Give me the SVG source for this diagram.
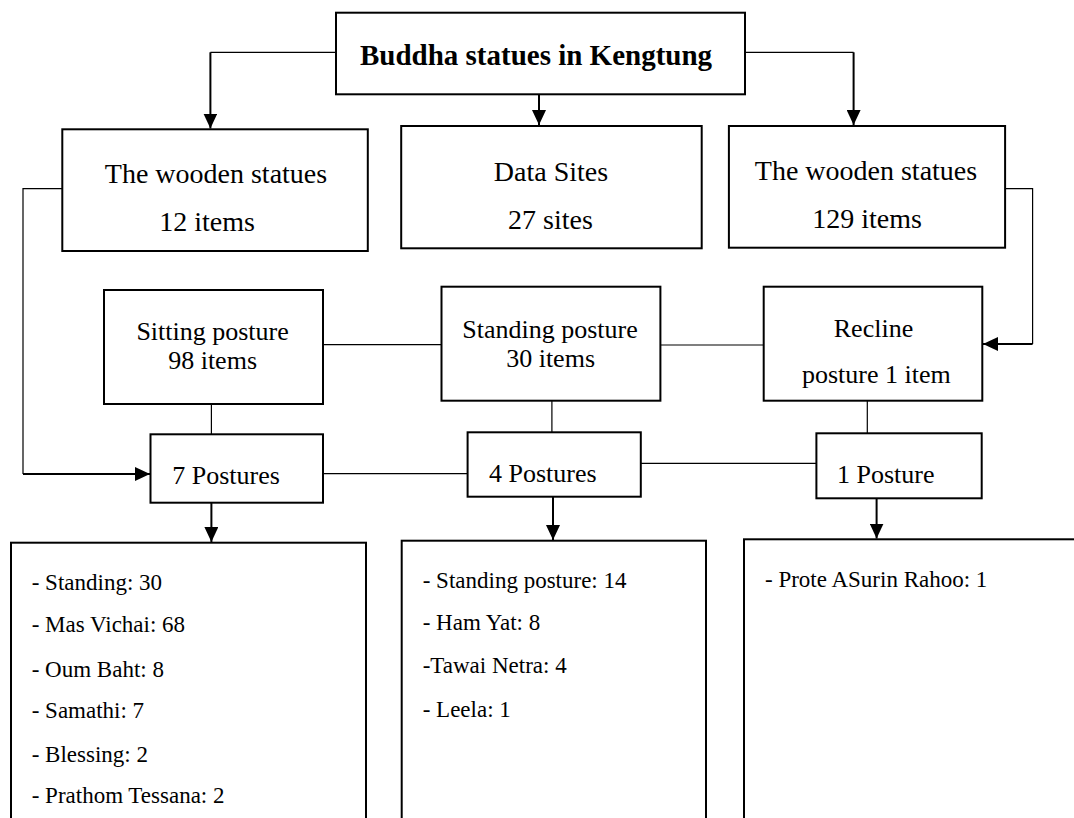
<svg xmlns="http://www.w3.org/2000/svg" width="1074" height="818" viewBox="0 0 1074 818">
<style>
.box{fill:#fff;stroke:#000;stroke-width:2}
.thin{fill:none;stroke:#000;stroke-width:1.2}
.arr{fill:none;stroke:#000;stroke-width:2;marker-end:url(#ah)}
text{font-family:"Liberation Serif","Times New Roman",serif;fill:#000}
.t28{font-size:28px;text-anchor:middle}
.t26{font-size:26px;text-anchor:middle}
.p{font-size:26px}
.l{font-size:23px}
</style>
<defs>
<marker id="ah" markerUnits="userSpaceOnUse" markerWidth="15" markerHeight="14" refX="15" refY="7" orient="auto">
<path d="M0,0 L15,7 L0,14 z" fill="#000"/>
</marker>
</defs>
<rect width="1074" height="818" fill="#fff"/>
<g id="connectors">
<path class="thin" d="M336,52.3 H210.4"/>
<path class="arr" d="M210.4,52.3 V128.5"/>
<path class="arr" d="M539,94.3 V125"/>
<path class="thin" d="M745,52.3 H853.6"/>
<path class="arr" d="M853.6,52.3 V125"/>
<path class="thin" d="M62.3,188.7 H23 V474"/>
<path class="arr" d="M23,474 H150"/>
<path class="thin" d="M1005,188.7 H1032.6 V344"/>
<path class="arr" d="M1032.6,344 H983"/>
<path class="thin" d="M323,344.7 H441.5"/>
<path class="thin" d="M660.4,345 H763.7"/>
<path class="thin" d="M211.4,404 V434.3"/>
<path class="thin" d="M323,473.7 H467.6"/>
<path class="thin" d="M551.9,400.7 V432.3"/>
<path class="thin" d="M640.8,463.3 H816.4"/>
<path class="thin" d="M867.3,400.7 V433.3"/>
<path class="arr" d="M211.4,502.7 V542"/>
<path class="arr" d="M553,496.7 V540"/>
<path class="arr" d="M876.6,498.3 V538.5"/>
</g>
<g id="root">
<rect class="box" x="336" y="12.7" width="409" height="81.6"/>
<text x="536" y="65" style="font-size:29px;font-weight:bold;text-anchor:middle">Buddha statues in Kengtung</text>
</g>
<g id="wooden-left">
<rect class="box" x="62.3" y="129.3" width="305.5" height="121.7"/>
<text class="t28" x="216" y="182.7">The wooden statues</text>
<text class="t28" x="207" y="230.7">12 items</text>
</g>
<g id="data-sites">
<rect class="box" x="401.2" y="126" width="300.5" height="122.3"/>
<text class="t28" x="551" y="180.5">Data Sites</text>
<text class="t28" x="550.5" y="228.5">27 sites</text>
</g>
<g id="wooden-right">
<rect class="box" x="728.9" y="126" width="276.2" height="121.7"/>
<text class="t28" x="866" y="179.5">The wooden statues</text>
<text class="t28" x="867" y="228.3">129 items</text>
</g>
<g id="sitting">
<rect class="box" x="104" y="290" width="219" height="114"/>
<text class="t26" x="212.6" y="340">Sitting posture</text>
<text class="t26" x="212.6" y="369">98 items</text>
</g>
<g id="standing">
<rect class="box" x="441.5" y="286.7" width="218.9" height="114"/>
<text class="t26" x="550" y="338.3">Standing posture</text>
<text class="t26" x="550.6" y="366.7">30 items</text>
</g>
<g id="recline">
<rect class="box" x="763.7" y="286.7" width="218.6" height="114"/>
<text class="t26" x="873.5" y="336.7">Recline</text>
<text class="t26" x="876.3" y="383.3">posture 1 item</text>
</g>
<g id="postures-7">
<rect class="box" x="150.5" y="434.3" width="172.5" height="68.4"/>
<text class="p" x="172.2" y="484">7 Postures</text>
</g>
<g id="postures-4">
<rect class="box" x="467.6" y="432.3" width="173.2" height="64.4"/>
<text class="p" x="489" y="481.7">4 Postures</text>
</g>
<g id="posture-1">
<rect class="box" x="816.4" y="433.3" width="165.3" height="65"/>
<text class="p" x="837" y="483.3">1 Posture</text>
</g>
<g id="list-sitting">
<rect class="box" x="11" y="542.7" width="355" height="290"/>
<text class="l" x="31.7" y="590">- Standing: 30</text>
<text class="l" x="31.7" y="631.7">- Mas Vichai: 68</text>
<text class="l" x="31.7" y="676.7">- Oum Baht: 8</text>
<text class="l" x="31.7" y="718.3">- Samathi: 7</text>
<text class="l" x="31.7" y="761.7">- Blessing: 2</text>
<text class="l" x="31.7" y="803.3">- Prathom Tessana: 2</text>
</g>
<g id="list-standing">
<rect class="box" x="401.7" y="540.7" width="304.3" height="290"/>
<text class="l" x="422.7" y="588.3">- Standing posture: 14</text>
<text class="l" x="422.7" y="630">- Ham Yat: 8</text>
<text class="l" x="422.7" y="673.3">-Tawai Netra: 4</text>
<text class="l" x="422.7" y="716.7">- Leela: 1</text>
</g>
<g id="list-recline">
<rect class="box" x="744" y="539.3" width="350" height="290"/>
<text class="l" x="765" y="586.7">- Prote ASurin Rahoo: 1</text>
</g>
</svg>
